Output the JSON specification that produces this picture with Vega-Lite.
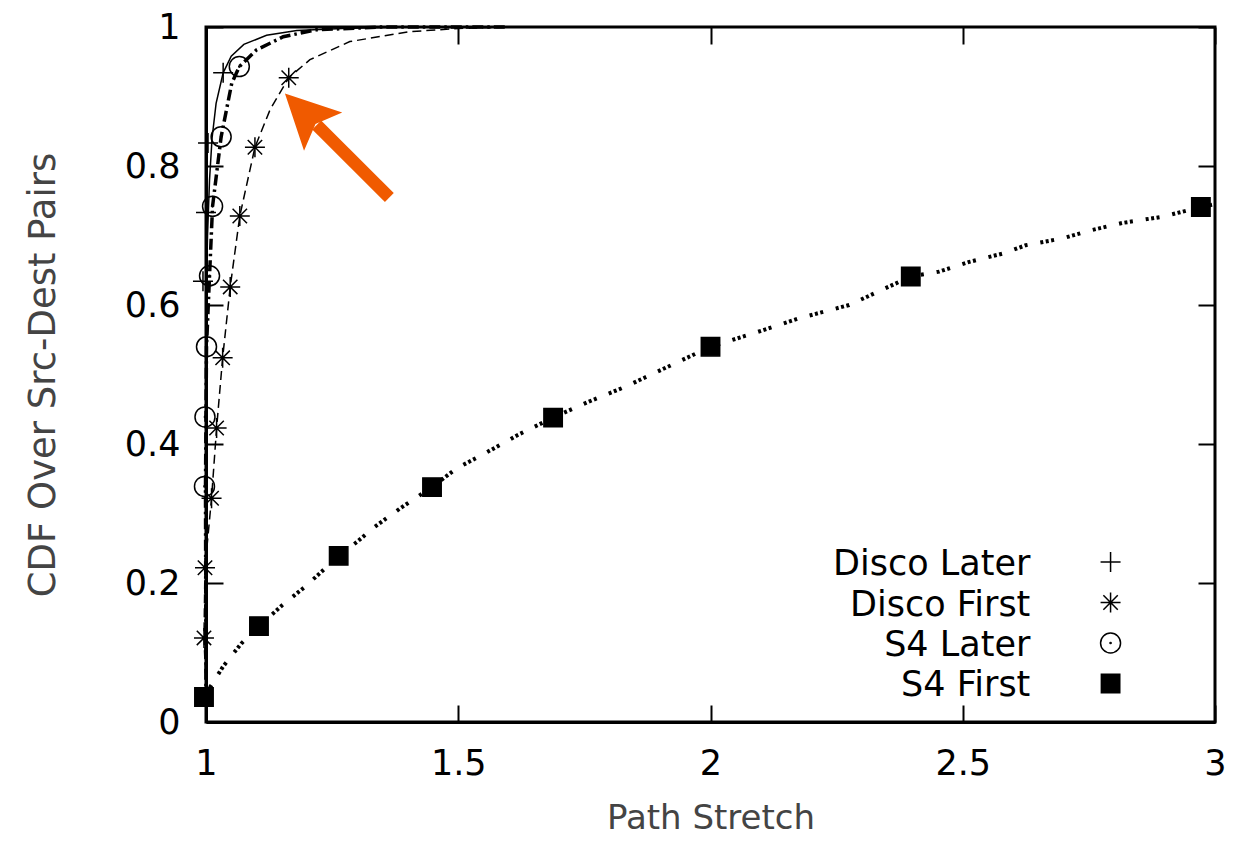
{
  "$schema": "https://vega.github.io/schema/vega-lite/v6.json",
  "width": 1009,
  "height": 695,
  "autosize": "none",
  "padding": {"left": 206, "top": 27, "right": 19, "bottom": 121},
  "background": "white",
  "config": {
    "view": {"stroke": "black", "strokeWidth": 3},
    "axis": {
      "grid": false,
      "domainColor": "black",
      "domainWidth": 3,
      "tickColor": "black",
      "tickWidth": 2,
      "tickSize": -17,
      "labelFont": "DejaVu Sans",
      "labelFontSize": 35,
      "labelColor": "black",
      "labelFlush": false,
      "labelOverlap": false,
      "titleFont": "DejaVu Sans",
      "titleFontWeight": "normal",
      "titleColor": "#444444"
    }
  },
  "datasets": {
    "lines": [
      {"series": "Disco Later", "i": 1, "x": 1.0, "y": 0.0},
      {"series": "Disco Later", "i": 2, "x": 1.0, "y": 0.6},
      {"series": "Disco Later", "i": 3, "x": 1.003, "y": 0.7},
      {"series": "Disco Later", "i": 4, "x": 1.007, "y": 0.78},
      {"series": "Disco Later", "i": 5, "x": 1.012, "y": 0.84},
      {"series": "Disco Later", "i": 6, "x": 1.02, "y": 0.89},
      {"series": "Disco Later", "i": 7, "x": 1.034, "y": 0.934},
      {"series": "Disco Later", "i": 8, "x": 1.05, "y": 0.958},
      {"series": "Disco Later", "i": 9, "x": 1.075, "y": 0.975},
      {"series": "Disco Later", "i": 10, "x": 1.12, "y": 0.988},
      {"series": "Disco Later", "i": 11, "x": 1.18, "y": 0.995},
      {"series": "Disco Later", "i": 12, "x": 1.27, "y": 0.998},
      {"series": "Disco Later", "i": 13, "x": 1.4, "y": 1.0},
      {"series": "Disco Later", "i": 14, "x": 1.75, "y": 1.0},
      {"series": "Disco First", "i": 1, "x": 1.0, "y": 0.05},
      {"series": "Disco First", "i": 2, "x": 0.996, "y": 0.121},
      {"series": "Disco First", "i": 3, "x": 0.998, "y": 0.222},
      {"series": "Disco First", "i": 4, "x": 1.011, "y": 0.322},
      {"series": "Disco First", "i": 5, "x": 1.021, "y": 0.423},
      {"series": "Disco First", "i": 6, "x": 1.033, "y": 0.524},
      {"series": "Disco First", "i": 7, "x": 1.048, "y": 0.626},
      {"series": "Disco First", "i": 8, "x": 1.067, "y": 0.728},
      {"series": "Disco First", "i": 9, "x": 1.097, "y": 0.827},
      {"series": "Disco First", "i": 10, "x": 1.127, "y": 0.881},
      {"series": "Disco First", "i": 11, "x": 1.164, "y": 0.927},
      {"series": "Disco First", "i": 12, "x": 1.206, "y": 0.953},
      {"series": "Disco First", "i": 13, "x": 1.285, "y": 0.979},
      {"series": "Disco First", "i": 14, "x": 1.4, "y": 0.993},
      {"series": "Disco First", "i": 15, "x": 1.5, "y": 0.998},
      {"series": "Disco First", "i": 16, "x": 1.62, "y": 1.0},
      {"series": "Disco First", "i": 17, "x": 1.8, "y": 1.0},
      {"series": "S4 Later", "i": 1, "x": 1.0, "y": 0.03},
      {"series": "S4 Later", "i": 2, "x": 0.999, "y": 0.339},
      {"series": "S4 Later", "i": 3, "x": 1.0, "y": 0.439},
      {"series": "S4 Later", "i": 4, "x": 1.001, "y": 0.54},
      {"series": "S4 Later", "i": 5, "x": 1.007, "y": 0.642},
      {"series": "S4 Later", "i": 6, "x": 1.013, "y": 0.742},
      {"series": "S4 Later", "i": 7, "x": 1.03, "y": 0.842},
      {"series": "S4 Later", "i": 8, "x": 1.051, "y": 0.919},
      {"series": "S4 Later", "i": 9, "x": 1.066, "y": 0.943},
      {"series": "S4 Later", "i": 10, "x": 1.1, "y": 0.967},
      {"series": "S4 Later", "i": 11, "x": 1.153, "y": 0.986},
      {"series": "S4 Later", "i": 12, "x": 1.219, "y": 0.996},
      {"series": "S4 Later", "i": 13, "x": 1.35, "y": 1.0},
      {"series": "S4 Later", "i": 14, "x": 1.6, "y": 1.0},
      {"series": "S4 First", "i": 1, "x": 0.996, "y": 0.036},
      {"series": "S4 First", "i": 2, "x": 1.034, "y": 0.08},
      {"series": "S4 First", "i": 3, "x": 1.07, "y": 0.113},
      {"series": "S4 First", "i": 4, "x": 1.105, "y": 0.138},
      {"series": "S4 First", "i": 5, "x": 1.151, "y": 0.168},
      {"series": "S4 First", "i": 6, "x": 1.197, "y": 0.195},
      {"series": "S4 First", "i": 7, "x": 1.263, "y": 0.239},
      {"series": "S4 First", "i": 8, "x": 1.299, "y": 0.259},
      {"series": "S4 First", "i": 9, "x": 1.335, "y": 0.281},
      {"series": "S4 First", "i": 10, "x": 1.384, "y": 0.307},
      {"series": "S4 First", "i": 11, "x": 1.448, "y": 0.338},
      {"series": "S4 First", "i": 12, "x": 1.497, "y": 0.365},
      {"series": "S4 First", "i": 13, "x": 1.554, "y": 0.387},
      {"series": "S4 First", "i": 14, "x": 1.618, "y": 0.413},
      {"series": "S4 First", "i": 15, "x": 1.688, "y": 0.438},
      {"series": "S4 First", "i": 16, "x": 1.759, "y": 0.461},
      {"series": "S4 First", "i": 17, "x": 1.83, "y": 0.482},
      {"series": "S4 First", "i": 18, "x": 2.0, "y": 0.54},
      {"series": "S4 First", "i": 19, "x": 2.084, "y": 0.559},
      {"series": "S4 First", "i": 20, "x": 2.176, "y": 0.581},
      {"series": "S4 First", "i": 21, "x": 2.275, "y": 0.6},
      {"series": "S4 First", "i": 22, "x": 2.397, "y": 0.641},
      {"series": "S4 First", "i": 23, "x": 2.453, "y": 0.648},
      {"series": "S4 First", "i": 24, "x": 2.513, "y": 0.662},
      {"series": "S4 First", "i": 25, "x": 2.579, "y": 0.674},
      {"series": "S4 First", "i": 26, "x": 2.625, "y": 0.686},
      {"series": "S4 First", "i": 27, "x": 2.698, "y": 0.696},
      {"series": "S4 First", "i": 28, "x": 2.757, "y": 0.708},
      {"series": "S4 First", "i": 29, "x": 2.816, "y": 0.718},
      {"series": "S4 First", "i": 30, "x": 2.896, "y": 0.727},
      {"series": "S4 First", "i": 31, "x": 2.972, "y": 0.741},
      {"series": "S4 First", "i": 32, "x": 3.0, "y": 0.745}
    ],
    "markers": [
      {"series": "Disco Later", "x": 1.034, "y": 0.934},
      {"series": "Disco Later", "x": 1.004, "y": 0.833},
      {"series": "Disco Later", "x": 1.0, "y": 0.733},
      {"series": "Disco Later", "x": 0.994, "y": 0.634},
      {"series": "Disco First", "x": 0.996, "y": 0.121},
      {"series": "Disco First", "x": 0.998, "y": 0.222},
      {"series": "Disco First", "x": 1.011, "y": 0.322},
      {"series": "Disco First", "x": 1.021, "y": 0.423},
      {"series": "Disco First", "x": 1.033, "y": 0.524},
      {"series": "Disco First", "x": 1.048, "y": 0.626},
      {"series": "Disco First", "x": 1.067, "y": 0.728},
      {"series": "Disco First", "x": 1.097, "y": 0.827},
      {"series": "Disco First", "x": 1.164, "y": 0.927},
      {"series": "S4 Later", "x": 0.997, "y": 0.339},
      {"series": "S4 Later", "x": 0.998, "y": 0.439},
      {"series": "S4 Later", "x": 1.001, "y": 0.54},
      {"series": "S4 Later", "x": 1.007, "y": 0.642},
      {"series": "S4 Later", "x": 1.013, "y": 0.742},
      {"series": "S4 Later", "x": 1.03, "y": 0.842},
      {"series": "S4 Later", "x": 1.066, "y": 0.943},
      {"series": "S4 First", "x": 0.996, "y": 0.036},
      {"series": "S4 First", "x": 1.105, "y": 0.138},
      {"series": "S4 First", "x": 1.263, "y": 0.239},
      {"series": "S4 First", "x": 1.448, "y": 0.338},
      {"series": "S4 First", "x": 1.688, "y": 0.438},
      {"series": "S4 First", "x": 2.0, "y": 0.54},
      {"series": "S4 First", "x": 2.397, "y": 0.641},
      {"series": "S4 First", "x": 2.972, "y": 0.741}
    ],
    "legend": [
      {"series": "Disco Later", "lx": 2.634, "ly": 0.2115, "sx": 2.793, "sy": 0.2302},
      {"series": "Disco First", "lx": 2.634, "ly": 0.1532, "sx": 2.793, "sy": 0.1719},
      {"series": "S4 Later", "lx": 2.634, "ly": 0.095, "sx": 2.793, "sy": 0.1137},
      {"series": "S4 First", "lx": 2.634, "ly": 0.0367, "sx": 2.793, "sy": 0.0554}
    ],
    "arrow": [
      {"part": "shaft", "x": 1.2194, "y": 0.859, "x2": 1.3634, "y2": 0.7547},
      {"part": "head", "x": 1.1943, "y": 0.877, "x2": 1.1943, "y2": 0.877}
    ]
  },
  "layer": [
    {
      "data": {"name": "lines"},
      "transform": [{"filter": "datum.series === 'Disco Later'"}],
      "mark": {"type": "line", "color": "black", "strokeWidth": 1.5, "clip": false},
      "encoding": {
        "x": {
          "field": "x", "type": "quantitative",
          "scale": {"domain": [1, 3], "nice": false, "zero": false},
          "axis": {"values": [1, 1.5, 2, 2.5, 3], "format": "~g", "labelPadding": 41, "title": "Path Stretch", "titleFontSize": 34, "titlePadding": 20}
        },
        "y": {
          "field": "y", "type": "quantitative",
          "scale": {"domain": [0, 1], "nice": false, "zero": false},
          "axis": {"values": [0, 0.2, 0.4, 0.6, 0.8, 1], "format": "~g", "labelPadding": 43, "title": "CDF Over Src-Dest Pairs", "titleFontSize": 37, "titlePadding": 62}
        },
        "order": {"field": "i", "type": "quantitative"}
      }
    },
    {
      "data": {"name": "lines"},
      "transform": [{"filter": "datum.series === 'Disco First'"}],
      "mark": {"type": "line", "color": "black", "strokeWidth": 1.5, "strokeDash": [9, 5], "clip": false},
      "encoding": {
        "x": {"field": "x", "type": "quantitative", "scale": {"domain": [1, 3], "nice": false, "zero": false}, "axis": null},
        "y": {"field": "y", "type": "quantitative", "scale": {"domain": [0, 1], "nice": false, "zero": false}, "axis": null},
        "order": {"field": "i", "type": "quantitative"}
      }
    },
    {
      "data": {"name": "lines"},
      "transform": [{"filter": "datum.series === 'S4 Later'"}],
      "mark": {"type": "line", "color": "black", "strokeWidth": 3.5, "strokeDash": [11, 4, 2.5, 4], "strokeCap": "butt", "clip": false},
      "encoding": {
        "x": {"field": "x", "type": "quantitative", "scale": {"domain": [1, 3], "nice": false, "zero": false}, "axis": null},
        "y": {"field": "y", "type": "quantitative", "scale": {"domain": [0, 1], "nice": false, "zero": false}, "axis": null},
        "order": {"field": "i", "type": "quantitative"}
      }
    },
    {
      "data": {"name": "lines"},
      "transform": [{"filter": "datum.series === 'S4 First'"}],
      "mark": {"type": "line", "color": "black", "strokeWidth": 4, "strokeDash": [3, 2.5, 3, 2.5, 3, 13], "strokeCap": "butt", "clip": false},
      "encoding": {
        "x": {"field": "x", "type": "quantitative", "scale": {"domain": [1, 3], "nice": false, "zero": false}, "axis": null},
        "y": {"field": "y", "type": "quantitative", "scale": {"domain": [0, 1], "nice": false, "zero": false}, "axis": null},
        "order": {"field": "i", "type": "quantitative"}
      }
    },
    {
      "data": {"name": "markers"},
      "mark": {"type": "point", "filled": false, "stroke": "black", "strokeWidth": 1.5, "size": 400, "opacity": 1, "clip": false},
      "encoding": {
        "x": {"field": "x", "type": "quantitative", "scale": {"domain": [1, 3], "nice": false, "zero": false}, "axis": null},
        "y": {"field": "y", "type": "quantitative", "scale": {"domain": [0, 1], "nice": false, "zero": false}, "axis": null},
        "shape": {
          "field": "series", "type": "nominal", "legend": null,
          "scale": {"domain": ["Disco Later", "Disco First", "S4 Later", "S4 First"], "range": ["M-1,0L1,0M0,-1L0,1", "M-1,0L1,0M0,-1L0,1M-0.72,-0.72L0.72,0.72M-0.72,0.72L0.72,-0.72", "M1,0A1,1 0 1,1 -1,0A1,1 0 1,1 1,0ZM0.06,0A0.06,0.06 0 1,1 -0.06,0A0.06,0.06 0 1,1 0.06,0Z", "M-0.92,-0.92L0.92,-0.92L0.92,0.92L-0.92,0.92Z"]}
        },
        "fill": {
          "field": "series", "type": "nominal", "legend": null,
          "scale": {"domain": ["Disco Later", "Disco First", "S4 Later", "S4 First"], "range": ["transparent", "transparent", "transparent", "black"]}
        }
      }
    },
    {
      "data": {"name": "legend"},
      "mark": {"type": "point", "filled": false, "stroke": "black", "strokeWidth": 1.5, "size": 400, "opacity": 1},
      "encoding": {
        "x": {"field": "sx", "type": "quantitative", "scale": {"domain": [1, 3], "nice": false, "zero": false}, "axis": null},
        "y": {"field": "sy", "type": "quantitative", "scale": {"domain": [0, 1], "nice": false, "zero": false}, "axis": null},
        "shape": {"field": "series", "type": "nominal", "legend": null},
        "fill": {"field": "series", "type": "nominal", "legend": null}
      }
    },
    {
      "data": {"name": "legend"},
      "mark": {"type": "text", "align": "right", "baseline": "alphabetic", "font": "DejaVu Sans", "fontSize": 35, "color": "black"},
      "encoding": {
        "x": {"field": "lx", "type": "quantitative", "scale": {"domain": [1, 3], "nice": false, "zero": false}, "axis": null},
        "y": {"field": "ly", "type": "quantitative", "scale": {"domain": [0, 1], "nice": false, "zero": false}, "axis": null},
        "text": {"field": "series"}
      }
    },
    {
      "data": {"name": "arrow"},
      "transform": [{"filter": "datum.part === 'shaft'"}],
      "mark": {"type": "rule", "color": "#f05a00", "strokeWidth": 12.5, "strokeCap": "butt"},
      "encoding": {
        "x": {"field": "x", "type": "quantitative", "scale": {"domain": [1, 3], "nice": false, "zero": false}, "axis": null},
        "y": {"field": "y", "type": "quantitative", "scale": {"domain": [0, 1], "nice": false, "zero": false}, "axis": null},
        "x2": {"field": "x2"},
        "y2": {"field": "y2"}
      }
    },
    {
      "data": {"name": "arrow"},
      "transform": [{"filter": "datum.part === 'head'"}],
      "mark": {"type": "point", "filled": true, "color": "#f05a00", "opacity": 1, "shape": "M0,-1L1,1L0,0.6L-1,1Z", "size": 2916, "angle": 315},
      "encoding": {
        "x": {"field": "x", "type": "quantitative", "scale": {"domain": [1, 3], "nice": false, "zero": false}, "axis": null},
        "y": {"field": "y", "type": "quantitative", "scale": {"domain": [0, 1], "nice": false, "zero": false}, "axis": null}
      }
    },
    {
      "data": {"name": "markers"},
      "mark": {"type": "point", "opacity": 0},
      "encoding": {
        "x": {
          "field": "x", "type": "quantitative",
          "scale": {"domain": [1, 3], "nice": false, "zero": false},
          "axis": {"orient": "top", "values": [1, 1.5, 2, 2.5, 3], "labels": false, "domain": false, "title": null}
        },
        "y": {
          "field": "y", "type": "quantitative",
          "scale": {"domain": [0, 1], "nice": false, "zero": false},
          "axis": {"orient": "right", "values": [0, 0.2, 0.4, 0.6, 0.8, 1], "labels": false, "domain": false, "title": null}
        }
      }
    }
  ],
  "resolve": {"axis": {"x": "independent", "y": "independent"}}
}
